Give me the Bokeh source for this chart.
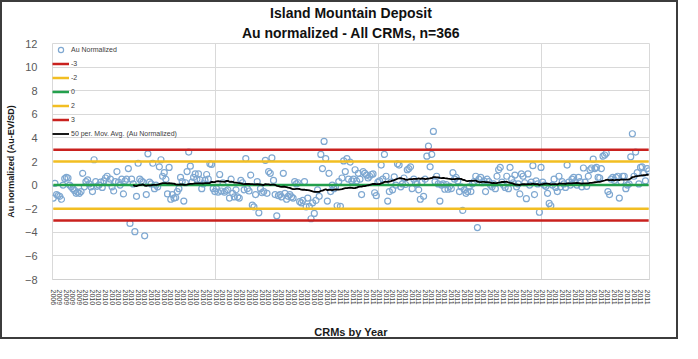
import pandas as pd
from bokeh.plotting import figure
from bokeh.models import Range1d, FixedTicker, Title, Legend, LegendItem, ColumnDataSource
from bokeh.embed import file_html
from bokeh.resources import INLINE

title_main = "Island Mountain Deposit"
title_sub = "Au normalized - All CRMs, n=366"
x_title = "CRMs by Year"
y_title = "Au normalized (Au-EV/SD)"

# category (year) of each CRM, in chart order
years = ["2006"] + ["2009"] * 19 + ["2010"] * 150 + ["2011"] * 196

# Au normalized values (10 per row)
au_normalized = [
    -1.1, 0.15, -0.8, -0.9, -0.95, -1.2, 0.0, 0.55, 0.65, 0.6,
    0.0, -0.15, -0.3, -0.45, -0.7, -0.6, -0.7, -0.55, 1.0, -0.15,
    0.3, 0.45, 0.1, -0.15, -0.55, 2.15, 0.3, -0.1, 0.0, 0.25,
    -0.2, 0.35, 0.6, 0.75, 0.2, 0.5, -0.15, -0.5, 0.3, 1.15,
    0.25, 0.0, 0.5, -0.75, 0.35, 0.5, 1.4, -3.25, 0.5, 0.1,
    -3.95, -0.95, 1.85, 0.5, 0.35, 0.25, -4.3, -0.8, 2.65, 0.25,
    0.1, 1.85, -0.3, 0.0, -0.15, 1.55, 2.15, 0.75, 1.05, 0.5,
    -0.75, 1.5, -1.2, -0.8, -1.1, -1.05, -0.55, -0.3, 0.65, 0.3,
    -1.35, 0.2, 1.15, 2.8, 1.6, 0.25, 0.65, 0.95, 0.5, 0.95,
    0.45, -0.3, 0.1, 0.4, 0.9, 0.5, 1.8, 1.75, -0.3, -0.55,
    -0.3, -0.6, 0.9, -0.5, 0.2, -0.6, -0.5, -0.4, -1.1, 0.5,
    -0.7, -1.0, -0.4, -1.0, -1.1, 0.4, 0.2, -0.4, 2.25, -0.3,
    -0.5, 0.85, -1.7, -1.85, -0.8, 0.3, -2.35, -0.3, -0.65, -0.55,
    2.1, -0.7, 1.15, 1.0, 2.3, 0.4, -0.8, -2.6, -0.9, -0.8,
    -1.0, 1.0, -0.7, -1.2, -0.95, -0.8, -1.0, -1.1, 0.3, 0.1,
    0.2, -1.4, -1.5, -1.3, 0.3, -1.85, -1.1, -1.8, -2.85, -1.5,
    -2.4, -1.3, -0.4, -0.95, 2.6, 1.4, 3.7, 2.25, -1.35, 1.0,
    -0.55, 0.0, -0.3, -0.15, -1.75, 0.3, -1.8, 0.6, 2.05, 1.15,
    2.25, 0.5, 1.95, 0.35, 0.5, 1.3, 0.35, 1.0, 0.5, -0.8,
    1.15, 1.0, 0.85, 0.6, 0.75, 0.9, 0.95, -0.65, -0.9, 0.25,
    0.35, 1.7, 0.5, 2.6, 0.75, -1.35, -0.55, 0.25, -0.4, 0.7,
    0.0, 1.8, 1.7, -0.15, 0.1, 0.6, 0.05, 1.3, 1.4, 1.55,
    -0.3, 0.5, 0.2, 0.1, -0.4, -1.2, 0.25, -0.95, 0.5, 2.45,
    3.3, 1.55, 2.6, 4.55, 0.3, 0.75, 0.1, -1.35, 0.0, 0.1,
    -0.35, 0.05, -0.35, -0.1, -0.3, 1.05, 0.5, 0.65, 0.35, -0.55,
    -0.15, -2.15, -0.4, -0.7, -0.55, -0.15, -0.55, 0.1, 0.3, 0.75,
    -3.6, 0.5, 0.65, 0.2, 0.35, -0.55, 0.5, 0.3, 0.0, -0.15,
    0.1, -0.3, 0.75, 1.3, 1.5, 0.25, 0.0, -0.2, 0.75, -0.3,
    1.5, 0.5, 0.2, 0.85, -0.15, 0.1, -0.75, 0.95, 0.75, 0.2,
    -1.15, 0.95, 0.0, 0.25, 1.65, -0.8, 0.35, 0.1, -2.3, 1.5,
    0.25, 0.0, -0.1, -0.7, -1.55, -1.75, 0.0, 0.5, -0.2, -0.55,
    0.75, -0.15, 0.3, 0.1, -0.2, 1.7, 0.25, 0.0, 0.5, 0.65,
    0.3, 0.0, 0.65, 0.3, -0.15, 1.45, 0.25, -0.1, 0.75, 1.3,
    1.45, 2.2, 1.4, 1.5, 0.65, 0.6, 1.4, 2.45, 2.55, 2.7,
    -0.55, -0.8, 0.5, 0.65, 0.4, 0.65, 0.75, -1.1, 0.3, 0.75,
    0.75, -0.3, 0.0, 0.1, 2.4, 4.35, 0.75, 2.8, 1.05, 0.1,
    1.5, 1.55, 1.0, 0.35, 1.4, 1.2,
]

control_levels = [-3, -2, 0, 2, 3]
control_labels = ["-3", "-2", "0", "2", "3"]
control_colors = ["#C9211E", "#F2BE22", "#23A04C", "#F2BE22", "#C9211E"]

ma_period = 50
ma_label = "50 per. Mov. Avg. (Au Normalized)"
y_ticks = [-8, -6, -4, -2, 0, 2, 4, 6, 8, 10, 12]
label_every = 4
vgrid_every = 100

FONT = "Liberation Sans"

n = len(au_normalized)
idx = list(range(n))
ma = pd.Series(au_normalized).rolling(ma_period).mean()

src = ColumnDataSource(dict(x=idx, y=au_normalized, year=years[:n]))

p = figure(width=678, height=339,
           x_range=Range1d(-0.5, n - 0.5),
           y_range=Range1d(y_ticks[0], y_ticks[-1]),
           output_backend="svg", toolbar_location=None, title=None,
           min_border_left=45, min_border_right=31,
           min_border_top=41, min_border_bottom=57)
p.styles = {"border": "2px solid #3c3c3c"}
p.background_fill_color = "white"
p.border_fill_color = "white"
p.outline_line_color = "#D9D9D9"
p.outline_line_width = 1

r_pts = p.scatter("x", "y", source=src, marker="circle", size=6,
                  line_color="#7FA8D1", line_width=1.2, fill_color=None)

level_renderers = []
for lvl, col in zip(control_levels, control_colors):
    r = p.line(idx, [lvl] * n, line_color=col, line_width=2.5)
    level_renderers.append(r)

r_ma = p.line(idx[ma_period - 1:], ma.iloc[ma_period - 1:].tolist(),
              line_color="black", line_width=1.8)

items = [LegendItem(label="Au Normalized", renderers=[r_pts])]
for lab, r in zip(control_labels, level_renderers):
    items.append(LegendItem(label=lab, renderers=[r]))
items.append(LegendItem(label=ma_label, renderers=[r_ma]))
legend = Legend(items=items, location="top_left",
                background_fill_alpha=0, border_line_color=None,
                label_text_font=FONT, label_text_font_size="7px",
                label_text_color="#404040",
                glyph_width=17, glyph_height=13, label_height=13,
                spacing=1, padding=5, margin=0, label_standoff=2)
p.add_layout(legend)

# titles
p.add_layout(Title(text=title_sub, align="center", text_font=FONT,
                   text_font_size="14px", text_font_style="bold",
                   text_color="#111111", standoff=5), "above")
p.add_layout(Title(text=title_main, align="center", text_font=FONT,
                   text_font_size="14px", text_font_style="bold",
                   text_color="#111111", standoff=0), "above")

# grids
p.ygrid.ticker = FixedTicker(ticks=y_ticks)
p.ygrid.grid_line_color = "#D9D9D9"
p.xgrid.ticker = FixedTicker(ticks=[b - 0.5 for b in range(vgrid_every, n, vgrid_every)])
p.xgrid.grid_line_color = "#D9D9D9"

# x axis
tick_pos = list(range(0, n, label_every))
p.xaxis.ticker = FixedTicker(ticks=tick_pos)
p.xaxis.major_label_overrides = {i: years[i] for i in tick_pos}
p.xaxis.major_label_orientation = "vertical"
p.xaxis.major_label_text_font = FONT
p.xaxis.major_label_text_font_size = "7px"
p.xaxis.major_label_text_color = "#404040"
p.xaxis.major_label_standoff = 4
p.xaxis.major_tick_line_color = None
p.xaxis.minor_tick_line_color = None
p.xaxis.axis_line_color = "#D0D0D0"
p.xaxis.axis_label = x_title
p.xaxis.axis_label_text_font = FONT
p.xaxis.axis_label_text_font_size = "11px"
p.xaxis.axis_label_text_font_style = "bold"
p.xaxis.axis_label_text_color = "#1a1a1a"
p.xaxis.axis_label_standoff = 18

# y axis
p.yaxis.ticker = FixedTicker(ticks=y_ticks)
p.yaxis.major_label_text_font = FONT
p.yaxis.major_label_text_font_size = "11px"
p.yaxis.major_label_text_color = "#595959"
p.yaxis.major_label_standoff = 9
p.yaxis.major_tick_line_color = None
p.yaxis.minor_tick_line_color = None
p.yaxis.axis_line_color = None
p.yaxis.axis_label = y_title
p.yaxis.axis_label_text_font = FONT
p.yaxis.axis_label_text_font_size = "9px"
p.yaxis.axis_label_text_font_style = "bold"
p.yaxis.axis_label_text_color = "#1a1a1a"
p.yaxis.axis_label_standoff = 6

open("out.html", "w").write(file_html(p, INLINE))
